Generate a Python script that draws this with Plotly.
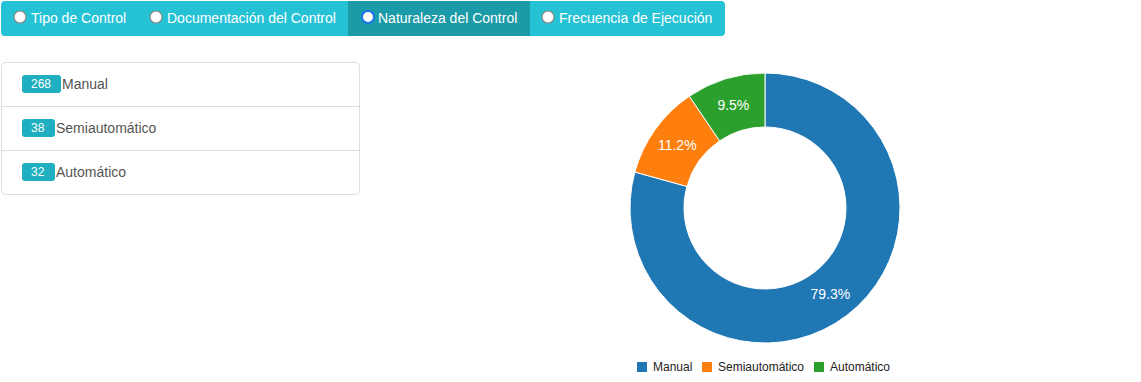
import plotly.graph_objects as go

W, H = 1141, 382

categories = ["Manual", "Semiautomático", "Automático"]
counts = [268, 38, 32]
colors = ["#1f77b4", "#ff7f0e", "#2ca02c"]
tabs = ["Tipo de Control", "Documentación del Control", "Naturaleza del Control", "Frecuencia de Ejecución"]
active_tab = 2

def px(x):
    return x / W

def py(y):
    return 1 - y / H

FONT = "Liberation Sans, Arial"

fig = go.Figure()

# donut
cx, cy, r = 765, 208, 135
fig.add_trace(go.Pie(
    labels=categories, values=counts, marker=dict(colors=colors, line=dict(color="white", width=1)),
    hole=0.6, sort=False, direction="clockwise", rotation=0,
    textinfo="percent", texttemplate="%{percent:.1%}", textposition="inside",
    insidetextfont=dict(color="white", size=14, family=FONT),
    insidetextorientation="horizontal",
    domain=dict(x=[px(cx - r), px(cx + r)], y=[py(cy + r), py(cy - r)]),
    showlegend=False, hoverinfo="label+value+percent",
))

shapes = []
annotations = []

def rrect(x0, y0, x1, y1, rad):
    return (f"M {px(x0+rad)} {py(y0)} L {px(x1-rad)} {py(y0)} Q {px(x1)} {py(y0)} {px(x1)} {py(y0+rad)} "
            f"L {px(x1)} {py(y1-rad)} Q {px(x1)} {py(y1)} {px(x1-rad)} {py(y1)} L {px(x0+rad)} {py(y1)} "
            f"Q {px(x0)} {py(y1)} {px(x0)} {py(y1-rad)} L {px(x0)} {py(y0+rad)} Q {px(x0)} {py(y0)} {px(x0+rad)} {py(y0)} Z")

# tab bar
shapes.append(dict(type="path", xref="paper", yref="paper", path=rrect(1, 1, 725, 36, 4),
                   fillcolor="#25c2d5", line=dict(width=0), layer="below"))
shapes.append(dict(type="rect", xref="paper", yref="paper", x0=px(348), x1=px(530), y0=py(36), y1=py(1),
                   fillcolor="#1b9aa7", line=dict(width=0), layer="below"))
tab_circle_x = [20, 156, 368, 548]
tab_text_x = [29, 165, 376, 557]
for i, t in enumerate(tabs):
    cxx = tab_circle_x[i]
    act = i == active_tab
    shapes.append(dict(type="circle", xref="paper", yref="paper",
                       x0=px(cxx - 6), x1=px(cxx + 6), y0=py(23), y1=py(11),
                       fillcolor="white", line=dict(color="#1a73e8" if act else "#8a8a8a", width=2 if act else 1.2)))
    annotations.append(dict(text=t, xref="paper", yref="paper", x=px(tab_text_x[i]), y=py(18),
                            xanchor="left", yanchor="middle", showarrow=False,
                            font=dict(color="white", size=14, family=FONT)))

# list panel
shapes.append(dict(type="path", xref="paper", yref="paper", path=rrect(1.5, 62.5, 359.5, 194.5, 4),
                   fillcolor="white", line=dict(color="#dddddd", width=1), layer="below"))
for yy in [106.5, 150.5]:
    shapes.append(dict(type="line", xref="paper", yref="paper", x0=px(1.5), x1=px(359.5), y0=py(yy), y1=py(yy),
                       line=dict(color="#dddddd", width=1)))
badge_w = [39, 33, 33]
for i, (c, n) in enumerate(zip(categories, counts)):
    yc = 84 + 44 * i
    x0, x1 = 22, 22 + badge_w[i]
    shapes.append(dict(type="path", xref="paper", yref="paper", path=rrect(x0, yc - 9, x1, yc + 9, 3),
                       fillcolor="#1fafc0", line=dict(width=0)))
    annotations.append(dict(text=str(n), xref="paper", yref="paper", x=px((x0 + x1) / 2 - 1), y=py(yc),
                            xanchor="center", yanchor="middle", showarrow=False,
                            font=dict(color="white", size=12, family=FONT)))
    annotations.append(dict(text=c, xref="paper", yref="paper", x=px(x1 - 1.5), y=py(yc),
                            xanchor="left", yanchor="middle", showarrow=False,
                            font=dict(color="#555555", size=14, family=FONT)))

# custom legend
leg_sq_x = [637, 702, 814]
for i, c in enumerate(categories):
    sx = leg_sq_x[i]
    shapes.append(dict(type="rect", xref="paper", yref="paper", x0=px(sx), x1=px(sx + 10),
                       y0=py(372), y1=py(362), fillcolor=colors[i], line=dict(width=0)))
    annotations.append(dict(text=c, xref="paper", yref="paper", x=px(sx + 14), y=py(367),
                            xanchor="left", yanchor="middle", showarrow=False,
                            font=dict(color="#222222", size=12, family=FONT)))

fig.update_layout(
    width=W, height=H, margin=dict(l=0, r=0, t=0, b=0),
    paper_bgcolor="white", plot_bgcolor="white",
    shapes=shapes, annotations=annotations, showlegend=False,
)

fig.write_html("out.html", config={"displayModeBar": False},
               post_script="document.body.style.margin='0';document.body.style.overflow='hidden';")
